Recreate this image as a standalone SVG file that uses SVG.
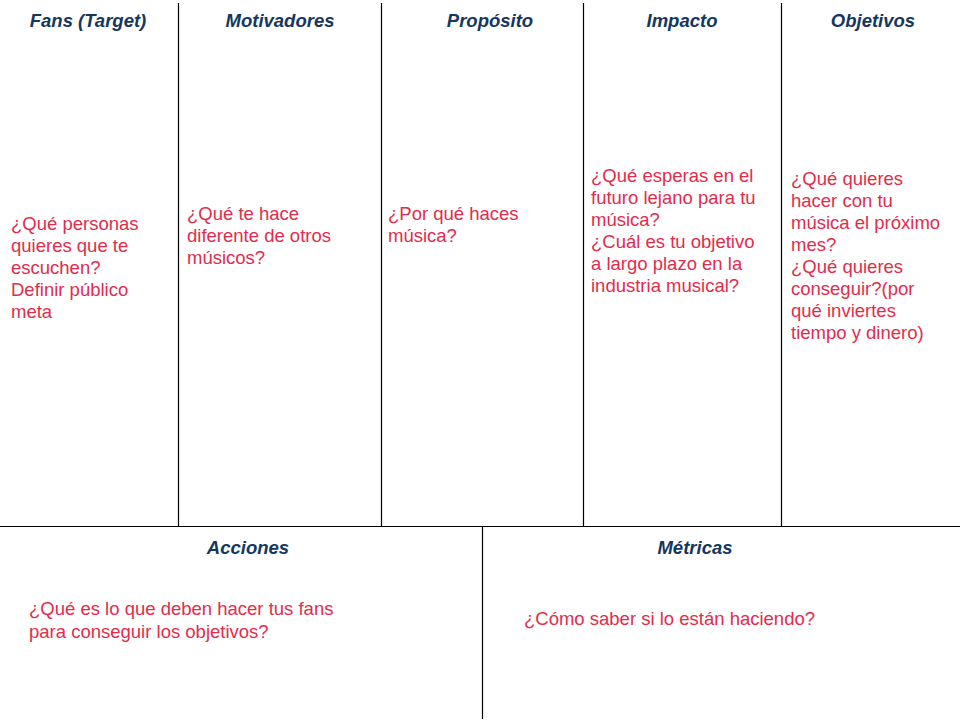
<svg xmlns="http://www.w3.org/2000/svg" width="960" height="720" viewBox="0 0 960 720">
<style>
.h{font-family:"Liberation Sans",Arial,sans-serif;font-size:18.5px;font-weight:bold;font-style:italic;fill:#14375f;text-anchor:middle}
.t{font-family:"Liberation Sans",Arial,sans-serif;font-size:18.5px;fill:#e22c4b}
.ln{stroke:#000;stroke-width:1.2;fill:none}
</style>
<rect width="960" height="720" fill="#fff"/>
<g id="connectors">
<line class="ln" x1="178.5" y1="3" x2="178.5" y2="526"/>
<line class="ln" x1="381.5" y1="3" x2="381.5" y2="526"/>
<line class="ln" x1="583.5" y1="3" x2="583.5" y2="526"/>
<line class="ln" x1="781.5" y1="3" x2="781.5" y2="526"/>
<line class="ln" x1="0" y1="526.5" x2="960" y2="526.5"/>
<line class="ln" x1="482.5" y1="526" x2="482.5" y2="719"/>
</g>
<g id="fans">
<text class="h" x="88" y="27">Fans (Target)</text>
<text class="t" x="11" y="230"><tspan x="11">¿Qué personas</tspan><tspan x="11" dy="22">quieres que te</tspan><tspan x="11" dy="22">escuchen?</tspan><tspan x="11" dy="22">Definir público</tspan><tspan x="11" dy="22">meta</tspan></text>
</g>
<g id="motivadores">
<text class="h" x="280" y="27">Motivadores</text>
<text class="t" x="187" y="220"><tspan x="187">¿Qué te hace</tspan><tspan x="187" dy="22">diferente de otros</tspan><tspan x="187" dy="22">músicos?</tspan></text>
</g>
<g id="proposito">
<text class="h" x="490" y="27">Propósito</text>
<text class="t" x="388" y="220"><tspan x="388">¿Por qué haces</tspan><tspan x="388" dy="22">música?</tspan></text>
</g>
<g id="impacto">
<text class="h" x="682" y="27">Impacto</text>
<text class="t" x="591" y="182"><tspan x="591">¿Qué esperas en el</tspan><tspan x="591" dy="22">futuro lejano para tu</tspan><tspan x="591" dy="22">música?</tspan><tspan x="591" dy="22">¿Cuál es tu objetivo</tspan><tspan x="591" dy="22">a largo plazo en la</tspan><tspan x="591" dy="22">industria musical?</tspan></text>
</g>
<g id="objetivos">
<text class="h" x="873" y="27">Objetivos</text>
<text class="t" x="791" y="185"><tspan x="791">¿Qué quieres</tspan><tspan x="791" dy="22">hacer con tu</tspan><tspan x="791" dy="22">música el próximo</tspan><tspan x="791" dy="22">mes?</tspan><tspan x="791" dy="22">¿Qué quieres</tspan><tspan x="791" dy="22">conseguir?(por</tspan><tspan x="791" dy="22">qué inviertes</tspan><tspan x="791" dy="22">tiempo y dinero)</tspan></text>
</g>
<g id="acciones">
<text class="h" x="248" y="554">Acciones</text>
<text class="t" x="29" y="615"><tspan x="29">¿Qué es lo que deben hacer tus fans</tspan><tspan x="29" dy="23">para conseguir los objetivos?</tspan></text>
</g>
<g id="metricas">
<text class="h" x="695" y="554">Métricas</text>
<text class="t" x="524" y="625">¿Cómo saber si lo están haciendo?</text>
</g>
</svg>
